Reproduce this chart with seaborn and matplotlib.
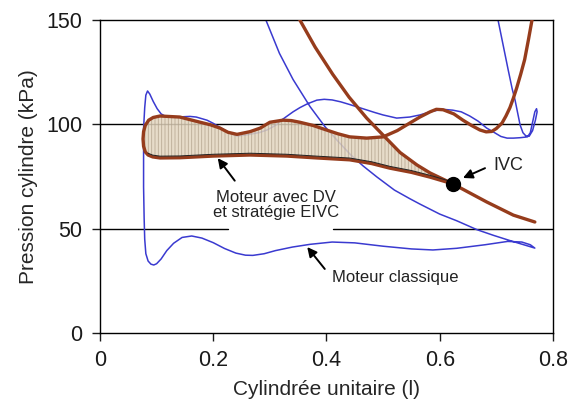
import numpy as np
import pandas as pd
import matplotlib
matplotlib.use("Agg")
import matplotlib.pyplot as plt
import matplotlib.transforms as mtransforms
import seaborn as sns

# --- Moteur classique (blue) ---
blue_exh_v = [0.703, 0.712, 0.721, 0.728, 0.733, 0.738, 0.742, 0.747, 0.752, 0.758, 0.764, 0.769, 0.772, 0.771,
              0.768, 0.764, 0.760, 0.755, 0.742, 0.730, 0.719, 0.708, 0.700, 0.692, 0.683, 0.668, 0.653, 0.638,
              0.623, 0.610, 0.600, 0.583, 0.565, 0.547, 0.524, 0.500, 0.485, 0.470, 0.455, 0.441, 0.425, 0.410,
              0.396, 0.383, 0.366, 0.353, 0.341, 0.323, 0.310, 0.295, 0.282, 0.270, 0.255, 0.242, 0.233, 0.225,
              0.212, 0.200, 0.189, 0.170, 0.159, 0.135, 0.118, 0.108, 0.101, 0.094, 0.088, 0.084, 0.081, 0.079,
              0.077, 0.077, 0.077, 0.078, 0.079, 0.081, 0.085, 0.090, 0.095]
blue_exh_p = [150, 138, 126, 117, 111.7, 105, 99.7, 96, 94.5, 94.3, 97, 102, 106, 107.5,
              106, 101, 96, 94, 93.6, 93.4, 93.4, 94.2, 95.5, 96.8, 98.2, 101.5, 104, 106,
              106.8, 107.1, 107, 106, 104.5, 103.5, 103, 104.5, 105.7, 107, 108.3, 109.5, 110.8, 111.7,
              112, 111.6, 109.8, 108, 106, 102.5, 99.5, 97.3, 96.1, 95.5, 94.8, 94.4, 95.2, 96.5,
              98.5, 100.5, 102, 103.5, 103.8, 103.5, 103.5, 105, 107.5, 111, 114.5, 116, 114, 108,
              98, 85, 70, 55, 45, 38, 34.5, 33, 32.6]
blue_int_v = [0.100, 0.108, 0.118, 0.130, 0.145, 0.162, 0.180, 0.200, 0.220, 0.240, 0.257, 0.270, 0.290, 0.310,
              0.340, 0.371, 0.410, 0.450, 0.500, 0.550, 0.588, 0.630, 0.680, 0.720, 0.745, 0.760, 0.768]
blue_int_p = [33.2, 35.5, 39.5, 43.0, 45.8, 46.5, 45.5, 43.3, 40.5, 38.3, 37.3, 37.2, 38.0, 39.5,
              41.2, 42.5, 43.6, 43.2, 41.6, 40.3, 39.8, 40.6, 42.3, 43.9, 43.6, 42.3, 40.7]
blue_comp_v = [0.768, 0.724, 0.695, 0.666, 0.630, 0.600, 0.565, 0.547, 0.520, 0.489, 0.465, 0.442, 0.420,
               0.397, 0.371, 0.341, 0.317, 0.293]
blue_comp_p = [40.7, 44.3, 46.8, 49.5, 53.8, 57.0, 61.8, 64.4, 68.5, 74.8, 80.0, 85.6, 92.0,
               99.0, 108.5, 121.5, 134.0, 150.0]

# --- Moteur avec DV et strategie EIVC (brown) ---
brown_exp_v = [0.763, 0.757, 0.750, 0.743, 0.736, 0.730, 0.724, 0.717, 0.710, 0.700, 0.692, 0.682, 0.671,
               0.656, 0.641, 0.625, 0.606, 0.594, 0.583, 0.565, 0.547, 0.525, 0.500]
brown_exp_p = [150, 141, 131, 124, 117.5, 112.5, 108, 104, 100.6, 98, 96.6, 96.4, 97.3,
               99.5, 102, 105, 107, 107.2, 106, 103.5, 100.6, 97, 94.0]
loop_v = [0.500, 0.471, 0.441, 0.420, 0.400, 0.376, 0.353, 0.338, 0.323, 0.300, 0.283, 0.265, 0.242, 0.226,
          0.212, 0.195, 0.177, 0.141, 0.106, 0.094, 0.086, 0.080, 0.077, 0.076, 0.077, 0.080, 0.085, 0.093,
          0.106, 0.141, 0.200, 0.265, 0.330, 0.383, 0.441, 0.480, 0.512, 0.550, 0.583, 0.623]
loop_p = [94.0, 93.4, 94.0, 95.5, 97.3, 99.5, 101.0, 101.8, 102.0, 101.0, 98.2, 96.5, 95.2, 96.2,
          98.2, 99.8, 101.0, 103.5, 104.0, 103.3, 102.0, 99.5, 96.5, 93.0, 89.5, 86.8, 85.3, 84.4,
          83.9, 84.0, 84.8, 85.3, 84.8, 83.9, 83.0, 81.2, 79.0, 77.0, 74.7, 71.5]
comp_v = [0.768, 0.730, 0.683, 0.623, 0.583, 0.560, 0.530, 0.503, 0.471, 0.440, 0.411, 0.380, 0.353]
comp_p = [53.2, 56.5, 62.8, 71.5, 76.7, 80.5, 86.5, 94.0, 103, 113, 124, 137, 150]
ivc = (0.623, 71.5)

blue = "#3a3ad0"
brown = "#963c1c"

sns.set_style("ticks")
plt.rcParams['font.family'] = ['Liberation Sans', 'DejaVu Sans']
plt.rcParams['lines.solid_joinstyle'] = 'round'
plt.rcParams['hatch.linewidth'] = 0.6

fig = plt.figure(figsize=(5.7, 4.17), dpi=100)
ax = fig.add_axes([0.1754, 0.2014, 0.7947, 0.7506])

# reference lines
ax.axhline(100, color="black", lw=1, zorder=1)
ax.axhline(50, xmin=0, xmax=0.283, color="black", lw=1, zorder=1)
ax.axhline(50, xmin=0.514, xmax=1, color="black", lw=1, zorder=1)

blue_df = pd.DataFrame({"v": blue_exh_v + blue_int_v + blue_comp_v,
                        "p": blue_exh_p + blue_int_p + blue_comp_p})
sns.lineplot(data=blue_df, x="v", y="p", sort=False, estimator=None, color=blue, lw=1.1, ax=ax, zorder=2)

# shaded loop
poly_v = loop_v + comp_v[4:8]
poly_p = loop_p + comp_p[4:8]
ax.fill(poly_v, poly_p, facecolor="#e3d6c0", edgecolor="#b3a38c", hatch="|||||", lw=0, alpha=0.85, zorder=3)

brown_df = pd.DataFrame({"v": brown_exp_v + loop_v[1:], "p": brown_exp_p + loop_p[1:]})
sns.lineplot(data=brown_df, x="v", y="p", sort=False, estimator=None, color=brown, lw=2.4, ax=ax, zorder=4)
comp_df = pd.DataFrame({"v": comp_v, "p": comp_p})
sns.lineplot(data=comp_df, x="v", y="p", sort=False, estimator=None, color=brown, lw=2.4, ax=ax, zorder=4)
# thin dark trace just inside the loop
shift = mtransforms.offset_copy(ax.transData, fig=fig, x=0, y=1.3, units="points")
ax.plot(loop_v[26:], loop_p[26:], color="#222222", lw=0.7, transform=shift, zorder=5)

ax.plot(*ivc, "o", color="black", ms=10, zorder=6)

# annotations
arrow = dict(arrowstyle="-|>", color="black", lw=1.4, mutation_scale=14, shrinkA=0, shrinkB=0)
ax.text(0.311, 61.3, "Moteur avec DV\net stratégie EIVC", ha="center", va="center",
        fontsize=12, linespacing=1.05, color="#222222", zorder=7)
ax.annotate("", xy=(0.208, 83.8), xytext=(0.238, 73), arrowprops=arrow, zorder=7)
ax.text(0.722, 80.5, "IVC", ha="center", va="center", fontsize=13, color="#222222")
ax.annotate("", xy=(0.641, 74.3), xytext=(0.680, 79), arrowprops=arrow)
ax.text(0.41, 26.4, "Moteur classique", ha="left", va="center", fontsize=12, color="#222222")
ax.annotate("", xy=(0.366, 41.2), xytext=(0.397, 30.7), arrowprops=arrow)

ax.set_xlim(0, 0.8)
ax.set_ylim(0, 150)
ax.set_xticks([0, 0.2, 0.4, 0.6, 0.8])
ax.set_xticklabels(["0", "0.2", "0.4", "0.6", "0.8"])
ax.set_yticks([0, 50, 100, 150])
ax.tick_params(direction="out", length=5.5, width=1, pad=7, labelsize=15.5, colors="#1a1a1a")
ax.set_xlabel("Cylindrée unitaire (l)", fontsize=15, labelpad=6)
ax.set_ylabel("Pression cylindre (kPa)", fontsize=15, labelpad=6)
for s in ax.spines.values():
    s.set_visible(True)
    s.set_color("black")
    s.set_linewidth(1)

fig.savefig("out.png", dpi=100)
